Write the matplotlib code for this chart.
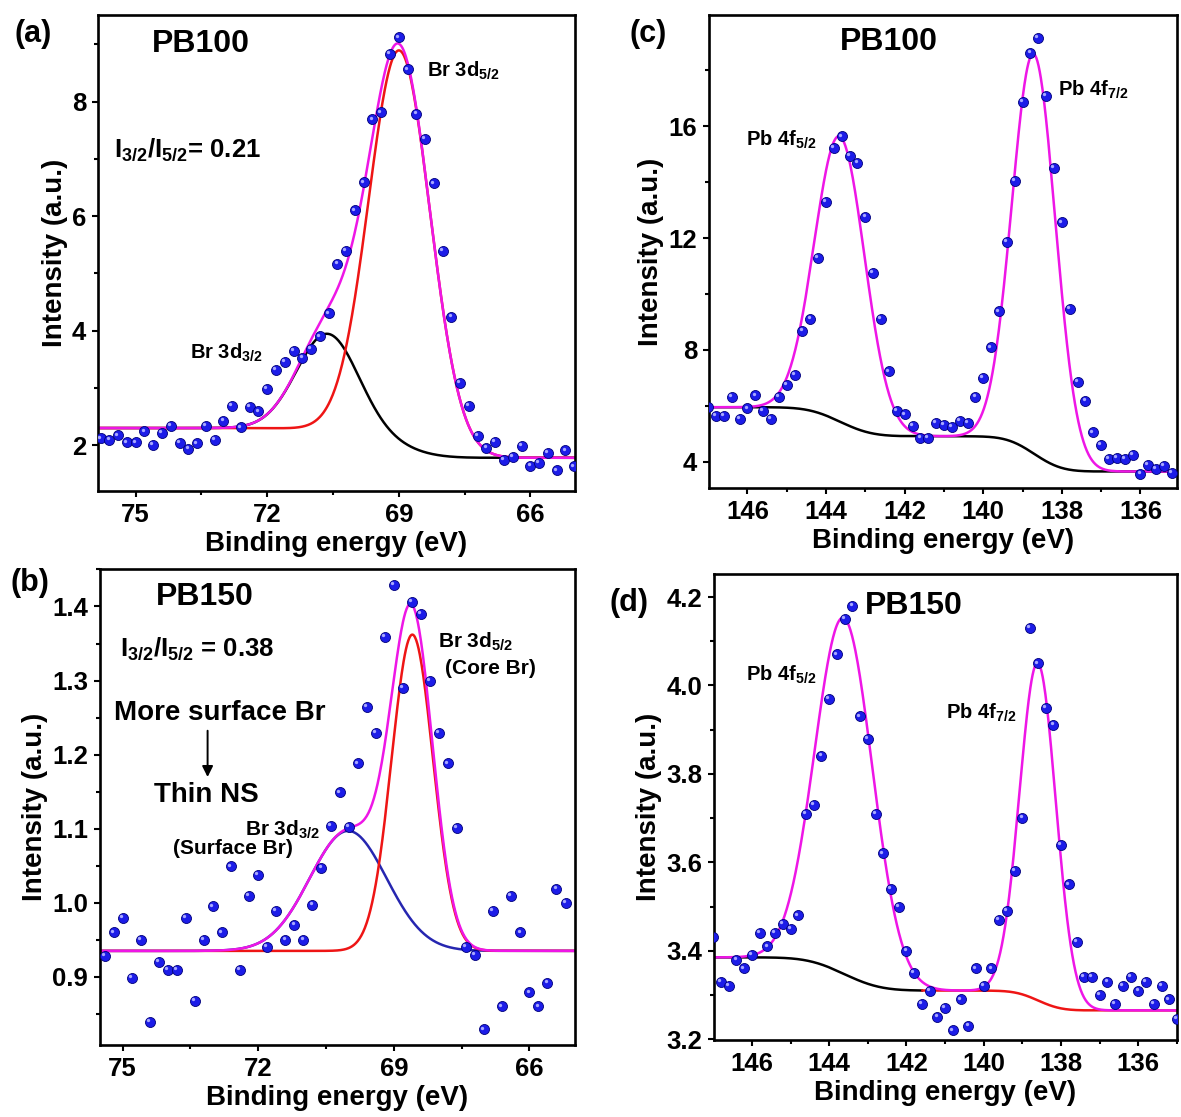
import numpy as np
import matplotlib
matplotlib.use('Agg')
from matplotlib import pyplot as plt
from matplotlib import transforms
from matplotlib.ticker import MultipleLocator, FormatStrFormatter

plt.rcParams['font.family'] = ['Liberation Sans', 'DejaVu Sans']
plt.rcParams['font.weight'] = 'bold'
plt.rcParams['mathtext.fontset'] = 'custom'
plt.rcParams['mathtext.rm'] = 'Liberation Sans:bold'
plt.rcParams['mathtext.it'] = 'Liberation Sans:bold'
plt.rcParams['mathtext.bf'] = 'Liberation Sans:bold'

##################################################
# Measured points (binding energy in eV, intensity in a.u.)

# (a) PB100, Br 3d
E_a = [75.8, 75.6, 75.4, 75.2, 75.0, 74.8, 74.6, 74.4, 74.2, 74.0,
       73.8, 73.6, 73.4, 73.2, 73.0, 72.8, 72.6, 72.4, 72.2, 72.0,
       71.8, 71.6, 71.4, 71.2, 71.0, 70.8, 70.6, 70.4, 70.2, 70.0,
       69.8, 69.6, 69.4, 69.2, 69.0, 68.8, 68.6, 68.4, 68.2, 68.0,
       67.8, 67.6, 67.4, 67.2, 67.0, 66.8, 66.6, 66.4, 66.2, 66.0,
       65.8, 65.6, 65.4, 65.2, 65.0]
I_a = [2.12, 2.09, 2.17, 2.05, 2.05, 2.24, 2.01, 2.22, 2.34, 2.04,
       1.93, 2.03, 2.34, 2.09, 2.42, 2.68, 2.31, 2.67, 2.59, 2.98,
       3.31, 3.46, 3.65, 3.52, 3.68, 3.90, 4.30, 5.17, 5.39, 6.10,
       6.59, 7.69, 7.81, 8.83, 9.12, 8.56, 7.78, 7.35, 6.57, 5.39,
       4.24, 3.09, 2.68, 2.16, 1.95, 2.06, 1.74, 1.80, 1.99, 1.64,
       1.69, 1.86, 1.56, 1.91, 1.63]

# (b) PB150, Br 3d
E_b = [75.4, 75.2, 75.0, 74.8, 74.6, 74.4, 74.2, 74.0, 73.8, 73.6,
       73.4, 73.2, 73.0, 72.8, 72.6, 72.4, 72.2, 72.0, 71.8, 71.6,
       71.4, 71.2, 71.0, 70.8, 70.6, 70.4, 70.2, 70.0, 69.8, 69.6,
       69.4, 69.2, 69.0, 68.8, 68.6, 68.4, 68.2, 68.0, 67.8, 67.6,
       67.4, 67.2, 67.0, 66.8, 66.6, 66.4, 66.2, 66.0, 65.8, 65.6,
       65.4, 65.2]
I_b = [0.928, 0.960, 0.980, 0.898, 0.950, 0.839, 0.920, 0.909, 0.909, 0.980,
       0.867, 0.950, 0.995, 0.960, 1.049, 0.909, 1.009, 1.038, 0.940, 0.989,
       0.950, 0.970, 0.950, 0.997, 1.047, 1.104, 1.149, 1.102, 1.188, 1.264,
       1.229, 1.359, 1.429, 1.290, 1.406, 1.390, 1.299, 1.229, 1.188, 1.101,
       0.940, 0.930, 0.829, 0.989, 0.860, 1.009, 0.960, 0.879, 0.860, 0.892,
       1.019, 1.000]

# (c) PB100, Pb 4f
E_c = [147.0, 146.8, 146.6, 146.4, 146.2, 146.0, 145.8, 145.6, 145.4, 145.2,
       145.0, 144.8, 144.6, 144.4, 144.2, 144.0, 143.8, 143.6, 143.4, 143.2,
       143.0, 142.8, 142.6, 142.4, 142.2, 142.0, 141.8, 141.6, 141.4, 141.2,
       141.0, 140.8, 140.6, 140.4, 140.2, 140.0, 139.8, 139.6, 139.4, 139.2,
       139.0, 138.8, 138.6, 138.4, 138.2, 138.0, 137.8, 137.6, 137.4, 137.2,
       137.0, 136.8, 136.6, 136.4, 136.2, 136.0, 135.8, 135.6, 135.4, 135.2]
I_c = [5.95, 5.65, 5.65, 6.33, 5.53, 5.91, 6.37, 5.82, 5.53, 6.33,
       6.76, 7.10, 8.68, 9.12, 11.30, 13.30, 15.23, 15.64, 14.93, 14.68,
       12.75, 10.74, 9.12, 7.23, 5.82, 5.69, 5.27, 4.86, 4.86, 5.40,
       5.31, 5.24, 5.47, 5.40, 6.33, 7.01, 8.09, 9.38, 11.85, 14.04,
       16.86, 18.62, 19.17, 17.08, 14.51, 12.56, 9.48, 6.85, 6.17, 5.05,
       4.60, 4.11, 4.15, 4.11, 4.24, 3.57, 3.89, 3.73, 3.86, 3.60]

# (d) PB150, Pb 4f
E_d = [147.0, 146.8, 146.6, 146.4, 146.2, 146.0, 145.8, 145.6, 145.4, 145.2,
       145.0, 144.8, 144.6, 144.4, 144.2, 144.0, 143.8, 143.6, 143.4, 143.2,
       143.0, 142.8, 142.6, 142.4, 142.2, 142.0, 141.8, 141.6, 141.4, 141.2,
       141.0, 140.8, 140.6, 140.4, 140.2, 140.0, 139.8, 139.6, 139.4, 139.2,
       139.0, 138.8, 138.6, 138.4, 138.2, 138.0, 137.8, 137.6, 137.4, 137.2,
       137.0, 136.8, 136.6, 136.4, 136.2, 136.0, 135.8, 135.6, 135.4, 135.2,
       135.0]
I_d = [3.43, 3.33, 3.32, 3.38, 3.36, 3.39, 3.44, 3.41, 3.44, 3.46,
       3.45, 3.48, 3.71, 3.73, 3.84, 3.97, 4.07, 4.15, 4.18, 3.93,
       3.88, 3.71, 3.62, 3.54, 3.50, 3.40, 3.35, 3.28, 3.31, 3.25,
       3.27, 3.22, 3.29, 3.23, 3.36, 3.32, 3.36, 3.47, 3.49, 3.58,
       3.70, 4.13, 4.05, 3.95, 3.91, 3.64, 3.55, 3.42, 3.34, 3.34,
       3.30, 3.33, 3.28, 3.32, 3.34, 3.31, 3.33, 3.28, 3.32, 3.29,
       3.245]

# Fitted peaks: centre (eV), height, FWHM; background levels (high BE side, low BE side)
a_centre = [68.98, 70.62]
a_height = [6.9, 1.7]
a_fwhm = [1.65, 1.65]
a_bg = [2.30, 1.78]

b_centre = [68.59, 70.01]
b_height = [0.427, 0.162]
b_fwhm = [1.08, 2.0]
b_bg = [0.935, 0.935]

c_centre = [143.65, 138.71]
c_height = [10.2, 14.3]
c_fwhm = [1.5, 1.3]
c_bg = [5.95, 3.65]

d_centre = [143.62, 138.6]
d_height = [0.805, 0.763]
d_fwhm = [1.75, 1.1]
d_bg = [3.385, 3.265]
d_split = 141.6

MAGENTA = '#ee16e6'
RED = '#ee1515'
BLUE = '#2626b0'


def gauss(e, c, h, w):
	s = w / 2.3548
	return h * np.exp(-(e - c) ** 2 / (2 * s * s))


def fit_curves(e, centres, heights, fwhms, bg):
	# e ascending, Shirley type step background
	peaks = [gauss(e, c, h, w) for c, h, w in zip(centres, heights, fwhms)]
	total = np.sum(peaks, axis=0)
	frac = np.cumsum(total)
	frac = frac / frac[-1]
	back = bg[1] + (bg[0] - bg[1]) * frac
	return back, peaks


def draw_points(ax, fig, e, i):
	ax.plot(e, i, 'o', ms=7.2, mfc='#1c1ce8', mec='#00007a', mew=0.6, zorder=5)
	hl = transforms.offset_copy(ax.transData, fig=fig, x=-1.3, y=1.3, units='points')
	ax.plot(e, i, 'o', ms=2.4, mfc='#a8a8ff', mec='none', transform=hl, zorder=6)


def style(ax, xlim, ylim, xmaj, xmin, ymaj, ymin, yfmt):
	ax.set_xlim(*xlim)
	ax.set_ylim(*ylim)
	ax.xaxis.set_major_locator(MultipleLocator(xmaj))
	ax.xaxis.set_minor_locator(MultipleLocator(xmin))
	ax.yaxis.set_major_locator(MultipleLocator(ymaj))
	ax.yaxis.set_minor_locator(MultipleLocator(ymin))
	ax.yaxis.set_major_formatter(FormatStrFormatter(yfmt))
	ax.xaxis.set_major_formatter(FormatStrFormatter('%d'))
	for sp in ax.spines.values():
		sp.set_linewidth(1.9)
	ax.tick_params(which='both', direction='out', top=False, right=False, width=1.5)
	ax.tick_params(which='major', length=4.5, labelsize=18.5, pad=4)
	ax.tick_params(which='minor', length=3)
	for lab in ax.get_xticklabels() + ax.get_yticklabels():
		lab.set_fontweight('bold')
	ax.set_xlabel('Binding energy (eV)', fontsize=20, fontweight='bold', labelpad=3)
	ax.set_ylabel('Intensity (a.u.)', fontsize=20, fontweight='bold', labelpad=3)


fig = plt.figure(figsize=(11.81, 11.17), dpi=100)
ax_a = fig.add_axes([0.0830, 0.5604, 0.4039, 0.4261])
ax_b = fig.add_axes([0.0847, 0.0645, 0.4022, 0.4261])
ax_c = fig.add_axes([0.6003, 0.5631, 0.3963, 0.4235])
ax_d = fig.add_axes([0.6046, 0.0689, 0.3920, 0.4172])

##################################################
# (a)
e = np.linspace(64.5, 76.5, 900)
back, pk = fit_curves(e, a_centre, a_height, a_fwhm, a_bg)
ax_a.plot(e, back + pk[1], color='black', lw=1.8)
ax_a.plot(e, back + pk[0], color=RED, lw=1.8)
ax_a.plot(e, back + pk[0] + pk[1], color=MAGENTA, lw=1.8)
draw_points(ax_a, fig, E_a, I_a)
style(ax_a, (75.86, 64.98), (1.20, 9.51), 3, 1.5, 2, 1, '%d')
ax_a.text(74.63, 9.01, 'PB100', fontsize=23, fontweight='bold', va='center')
ax_a.text(75.49, 7.16, r'I$_{3/2}$/I$_{5/2}$= 0.21', fontsize=18.5, fontweight='bold', va='center')
ax_a.text(68.35, 8.53, r'Br 3d$_{5/2}$', fontsize=14.5, fontweight='bold', va='center')
ax_a.text(73.77, 3.62, r'Br 3d$_{3/2}$', fontsize=14.5, fontweight='bold', va='center')

##################################################
# (b)
e = np.linspace(64.5, 76.5, 900)
back, pk = fit_curves(e, b_centre, b_height, b_fwhm, b_bg)
ax_b.plot(e, back + pk[1], color=BLUE, lw=1.8)
ax_b.plot(e, back + pk[0], color=RED, lw=1.8)
ax_b.plot(e, back + pk[0] + pk[1], color=MAGENTA, lw=1.8)
draw_points(ax_b, fig, E_b, I_b)
style(ax_b, (75.5, 64.99), (0.808, 1.4506), 3, 1.5, 0.1, 0.05, '%.1f')
ax_b.text(74.27, 1.413, 'PB150', fontsize=23, fontweight='bold', va='center')
ax_b.text(75.06, 1.343, r'I$_{3/2}$/I$_{5/2}$ = 0.38', fontsize=18.5, fontweight='bold', va='center')
ax_b.text(75.18, 1.256, 'More surface Br', fontsize=20, fontweight='bold', va='center')
ax_b.annotate('', xy=(73.12, 1.166), xytext=(73.12, 1.236),
              arrowprops=dict(arrowstyle='-|>', color='black', lw=1.4, mutation_scale=16))
ax_b.text(74.31, 1.146, 'Thin NS', fontsize=20, fontweight='bold', va='center')
ax_b.text(72.29, 1.098, r'Br 3d$_{3/2}$', fontsize=15, fontweight='bold', va='center')
ax_b.text(73.89, 1.073, '(Surface Br)', fontsize=15, fontweight='bold', va='center')
ax_b.text(68.03, 1.352, r'Br 3d$_{5/2}$', fontsize=15, fontweight='bold', va='center')
ax_b.text(67.87, 1.316, '(Core Br)', fontsize=15, fontweight='bold', va='center')

##################################################
# (c)
e = np.linspace(134.5, 147.5, 900)
back, pk = fit_curves(e, c_centre, c_height, c_fwhm, c_bg)
ax_c.plot(e, back, color='black', lw=1.8)
ax_c.plot(e, back + pk[0] + pk[1], color=MAGENTA, lw=1.8)
draw_points(ax_c, fig, E_c, I_c)
style(ax_c, (146.98, 135.07), (3.06, 19.98), 2, 1, 4, 2, '%d')
ax_c.text(143.65, 19.01, 'PB100', fontsize=23, fontweight='bold', va='center')
ax_c.text(146.05, 15.51, r'Pb 4f$_{5/2}$', fontsize=14.5, fontweight='bold', va='center')
ax_c.text(138.09, 17.31, r'Pb 4f$_{7/2}$', fontsize=14.5, fontweight='bold', va='center')

##################################################
# (d)
e = np.linspace(134.5, 147.5, 900)
back, pk = fit_curves(e, d_centre, d_height, d_fwhm, d_bg)
hi = e >= d_split
lo = e <= d_split
ax_d.plot(e[hi], back[hi], color='black', lw=1.8)
ax_d.plot(e[lo], back[lo], color=RED, lw=1.8)
ax_d.plot(e, back + pk[0] + pk[1], color=MAGENTA, lw=1.8)
draw_points(ax_d, fig, E_d, I_d)
style(ax_d, (146.98, 135.0), (3.198, 4.252), 2, 1, 0.2, 0.1, '%.1f')
ax_d.text(143.08, 4.18, 'PB150', fontsize=23, fontweight='bold', va='center')
ax_d.text(146.15, 4.023, r'Pb 4f$_{5/2}$', fontsize=14.5, fontweight='bold', va='center')
ax_d.text(140.99, 3.939, r'Pb 4f$_{7/2}$', fontsize=14.5, fontweight='bold', va='center')

# panel letters
fig.text(0.0127, 0.970, '(a)', fontsize=22, fontweight='bold', va='center')
fig.text(0.0093, 0.478, '(b)', fontsize=22, fontweight='bold', va='center')
fig.text(0.533, 0.970, '(c)', fontsize=22, fontweight='bold', va='center')
fig.text(0.5157, 0.4605, '(d)', fontsize=22, fontweight='bold', va='center')

fig.savefig('out.png', dpi=100)
